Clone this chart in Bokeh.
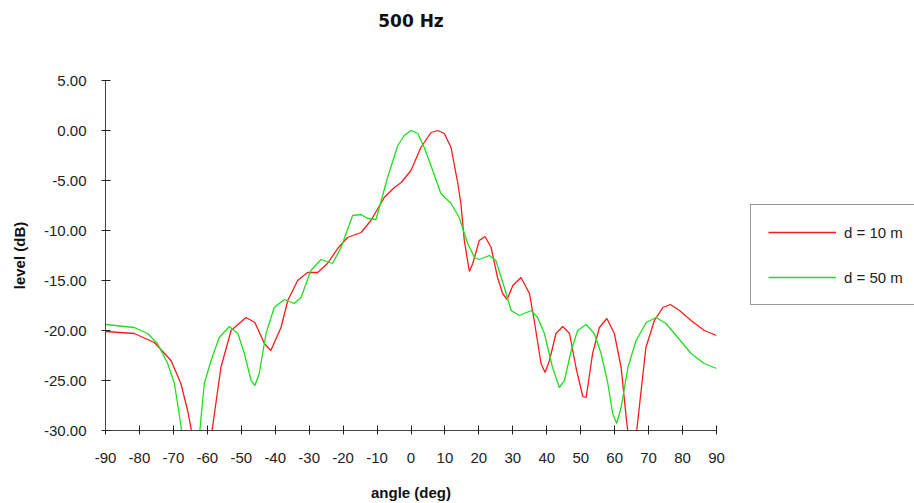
from bokeh.plotting import figure
from bokeh.models import Range1d, FixedTicker, PrintfTickFormatter, Legend, LegendItem, Title
from bokeh.embed import file_html
from bokeh.resources import INLINE

# data
angle_10 = [-90, -81.5, -75.6, -70.7, -67.8, -65.8, -64.3, -62, -60, -58.9, -56, -53, -48.6, -46,
            -43.2, -41.3, -38.3, -36.3, -33.4, -30.5, -27.5, -24.6, -21.6, -18.7, -14.7, -11.8,
            -7.9, -4.9, -2.9, 0, 2.9, 5.9, 7.9, 9.8, 11.8, 13.8, 14.7, 15.7, 17.2, 18.2, 20.1,
            21.8, 23.6, 25.5, 27, 28.3, 30, 32.4, 34.9, 36.3, 38.3, 39.5, 40.8, 42.7, 44.7, 46.7,
            48.6, 50.6, 51.6, 53.5, 55.5, 57.7, 59.9, 61.9, 63.4, 65.2, 67.8, 69.2, 71.7, 74.2,
            76.4, 79.1, 82.5, 86.4, 90]
level_10 = [-20.1, -20.3, -21.2, -23.0, -25.3, -28.0, -30.7, -37.0, -33.3, -30.7, -23.7, -20.0,
            -18.7, -19.2, -21.3, -22.0, -19.7, -17.0, -15.0, -14.2, -14.2, -13.3, -11.8, -10.7,
            -10.2, -9.0, -6.7, -5.7, -5.2, -4.0, -1.7, -0.2, 0.0, -0.3, -1.7, -5.3, -7.3, -11.0,
            -14.1, -13.3, -11.0, -10.6, -11.7, -14.7, -16.3, -16.9, -15.5, -14.7, -16.3, -19.0,
            -23.3, -24.2, -23.0, -20.3, -19.6, -20.3, -23.7, -26.6, -26.7, -22.3, -19.7, -18.8,
            -20.3, -23.7, -28.7, -34.0, -26.0, -21.7, -19.0, -17.7, -17.4, -18.0, -19.0, -20.0,
            -20.5]

angle_50 = [-90, -81.5, -77.6, -74.7, -71.7, -69.7, -68.3, -67.3, -65, -62.4, -60.9, -58.9, -56.5,
            -53.5, -51, -49.1, -47.1, -46, -44.7, -42.7, -40.3, -37.3, -34.4, -32.4, -29.5, -26.5,
            -23.1, -20.6, -17.2, -14.7, -12.8, -10.3, -6.9, -3.9, -2, 0, 2, 3.9, 6.4, 8.8, 11.8,
            14.2, 16.7, 18.7, 20.1, 23.1, 25, 27.5, 29.5, 31.9, 35.4, 37.3, 39.3, 41.7, 43.7,
            45.2, 47.2, 49.1, 51.6, 54, 56, 58, 59.4, 60.6, 61.9, 63.9, 66.3, 69.3, 72.2, 75.1,
            78.6, 82.5, 86.4, 90]
level_50 = [-19.4, -19.7, -20.3, -21.3, -23.3, -25.3, -28.3, -30.7, -36.0, -30.7, -25.3, -23.0,
            -20.7, -19.6, -20.3, -22.3, -25.0, -25.5, -24.3, -20.3, -17.7, -16.9, -17.3, -16.7,
            -14.0, -12.9, -13.3, -11.7, -8.5, -8.4, -8.8, -8.9, -4.7, -1.5, -0.5, 0.0, -0.3, -1.7,
            -4.0, -6.3, -7.3, -8.7, -11.3, -12.7, -12.9, -12.5, -13.0, -15.7, -18.0, -18.5, -18.0,
            -18.7, -20.3, -23.7, -25.7, -25.0, -22.0, -20.0, -19.4, -20.3, -22.3, -25.3, -28.3,
            -29.3, -27.7, -23.7, -21.0, -19.2, -18.7, -19.3, -20.7, -22.3, -23.3, -23.8]

x_ticks = list(range(-90, 91, 10))
y_ticks = [-30, -25, -20, -15, -10, -5, 0, 5]
series_names = ["d = 10 m", "d = 50 m"]
series_colors = ["#ff1a1a", "#1ee01e"]
chart_title = "500 Hz"

p = figure(width=912, height=501, output_backend="svg", toolbar_location=None,
           x_range=Range1d(-90, 90), y_range=Range1d(-30, 5),
           min_border_left=105, min_border_right=196, min_border_top=80, min_border_bottom=71)
p.frame_width = 611
p.frame_height = 350
p.title = None

# spacer between frame and title (added first -> nearest the frame)
spacer = Title(text=" ", align="center", text_font_size="17px", standoff=24,
               text_color="white")
p.add_layout(spacer, "above")
main_title = Title(text=chart_title, align="center", text_font="DejaVu Sans",
                   text_font_size="17px", text_font_style="bold", text_color="#111111")
p.add_layout(main_title, "above")

p.grid.visible = False
p.outline_line_color = None
p.background_fill_color = "white"
p.border_fill_color = "white"

for ax in (p.xaxis[0], p.yaxis[0]):
    ax.axis_line_color = "#444444"
    ax.major_tick_line_color = "#222222"
    ax.minor_tick_line_color = None
    ax.major_tick_in = 5
    ax.major_tick_out = 4
    ax.major_label_text_font = "Liberation Sans"
    ax.major_label_text_font_size = "15px"
    ax.major_label_text_color = "#222222"
    ax.axis_label_text_font = "Liberation Sans"
    ax.axis_label_text_font_size = "15px"
    ax.axis_label_text_font_style = "bold"
    ax.axis_label_text_color = "#111111"

p.xaxis.ticker = FixedTicker(ticks=x_ticks)
p.yaxis.ticker = FixedTicker(ticks=y_ticks)
p.xaxis.formatter = PrintfTickFormatter(format="%d")
p.yaxis.formatter = PrintfTickFormatter(format="%.2f")
p.xaxis.axis_label = "angle (deg)"
p.yaxis.axis_label = "level (dB)"
p.xaxis.major_label_standoff = 18
p.yaxis.major_label_standoff = 15
p.xaxis.axis_label_standoff = 18
p.yaxis.axis_label_standoff = 13

r1 = p.line(angle_10, level_10, line_color=series_colors[0], line_width=1.3)
r2 = p.line(angle_50, level_50, line_color=series_colors[1], line_width=1.3)

legend = Legend(items=[LegendItem(label=series_names[0], renderers=[r1]),
                       LegendItem(label=series_names[1], renderers=[r2])],
                location=(34, 125))
legend.border_line_color = "#333333"
legend.border_line_width = 1
legend.background_fill_alpha = 1
legend.padding = 17
legend.spacing = 25
legend.glyph_width = 68
legend.glyph_height = 20
legend.label_height = 20
legend.label_standoff = 8
legend.label_text_font = "Liberation Sans"
legend.label_text_font_size = "15px"
legend.label_text_color = "#222222"
legend.margin = 0
p.add_layout(legend, "right")

open("out.html", "w").write(file_html(p, INLINE))
